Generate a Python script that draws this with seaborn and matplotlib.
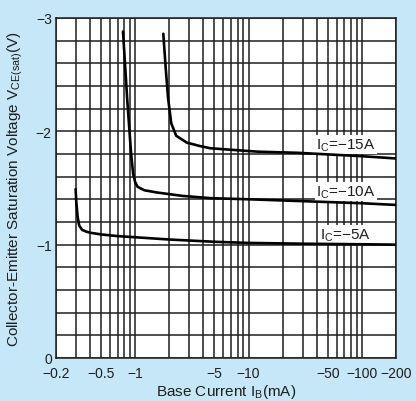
import numpy as np
import pandas as pd
import matplotlib
matplotlib.use("Agg")
import matplotlib.pyplot as plt
import seaborn as sns

# values (absolute values; axis labels carry the minus sign)
ib_5a = [0.298, 0.302, 0.31, 0.32, 0.34, 0.37, 0.4, 0.5, 0.7, 1.0, 2.0, 5.0, 10, 30, 100, 200]
vce_5a = [1.49, 1.38, 1.25, 1.17, 1.13, 1.115, 1.105, 1.09, 1.075, 1.065, 1.045, 1.025, 1.015, 1.008, 1.003, 1.0]

ib_10a = [0.78, 0.85, 0.92, 0.96, 1.0, 1.05, 1.2, 1.55, 2.6, 4.6, 10, 27, 100, 200]
vce_10a = [2.88, 2.28, 1.80, 1.62, 1.55, 1.51, 1.48, 1.46, 1.43, 1.41, 1.40, 1.385, 1.365, 1.35]

ib_15a = [1.77, 1.85, 1.95, 2.08, 2.3, 2.85, 3.7, 4.6, 12, 27, 100, 200]
vce_15a = [2.86, 2.58, 2.29, 2.07, 1.96, 1.90, 1.87, 1.85, 1.82, 1.81, 1.78, 1.76]

curve_names = ["I$_{\\mathregular{C}}$=\u221215A", "I$_{\\mathregular{C}}$=\u221210A", "I$_{\\mathregular{C}}$=\u22125A"]
label_x = [72, 72, 72]
label_y = [1.885, 1.47, 1.09]

xticks = [0.2, 0.5, 1, 5, 10, 50, 100, 200]
xtick_labels = ["\u22120.2", "\u22120.5", "\u22121", "\u22125", "\u221210", "\u221250", "\u2212100", "\u2212200"]
yticks = [0, 1, 2, 3]
ytick_labels = ["0", "\u22121", "\u22122", "\u22123"]

sns.set_theme(style="white")
plt.rcParams["font.family"] = ["Liberation Sans", "DejaVu Sans"]
plt.rcParams["mathtext.fontset"] = "custom"
plt.rcParams["mathtext.rm"] = "Liberation Sans"

bg = "#c6e7f7"
ink = "#1e1e1e"
fig = plt.figure(figsize=(4.16, 4.02), dpi=100, facecolor=bg)
ax = fig.add_axes([0.1346, 0.107, 0.8174, 0.846])
ax.set_facecolor("white")

for ib, vce in [(ib_5a, vce_5a), (ib_10a, vce_10a), (ib_15a, vce_15a)]:
    df = pd.DataFrame({"ib": ib, "vce": vce})
    sns.lineplot(data=df, x="ib", y="vce", ax=ax, sort=False, estimator=None,
                 color="black", linewidth=1.9, zorder=3)

ax.set_xscale("log")
ax.set_xlim(0.2, 200)
ax.set_ylim(0, 3)

minor_x = [m * 10.0 ** d for d in (-1, 0, 1, 2) for m in range(2, 10)]
minor_x = [v for v in minor_x if 0.2 < v < 200 and v not in xticks]
ax.set_xticks(xticks)
ax.set_xticklabels(xtick_labels)
ax.set_xticks(minor_x, minor=True)
ax.set_xticklabels([], minor=True)
ax.set_yticks(yticks)
ax.set_yticklabels(ytick_labels)
ax.set_yticks(np.arange(0, 3.01, 0.2), minor=True)

ax.grid(which="both", color=ink, linewidth=1.1)
ax.set_axisbelow(True)
ax.tick_params(which="both", length=0, labelsize=10, colors=ink)
ax.tick_params(axis="x", pad=6)
ax.tick_params(axis="y", pad=3)
for s in ax.spines.values():
    s.set_color(ink)
    s.set_linewidth(1.1)

for name, x, y in zip(curve_names, label_x, label_y):
    ax.text(x, y, name, fontsize=11, ha="center", va="center", color=ink, zorder=2.5,
            bbox=dict(facecolor="white", edgecolor="none", pad=0.8))

ax.set_xlabel("Base Current I$_{\\mathregular{B}}$(mA)", fontsize=11, color=ink, labelpad=1)
ax.set_ylabel("Collector-Emitter Saturation Voltage V$_{\\mathregular{CE(sat)}}$(V)",
              fontsize=11, color=ink, labelpad=8)

fig.savefig("out.png", dpi=100, facecolor=bg)
